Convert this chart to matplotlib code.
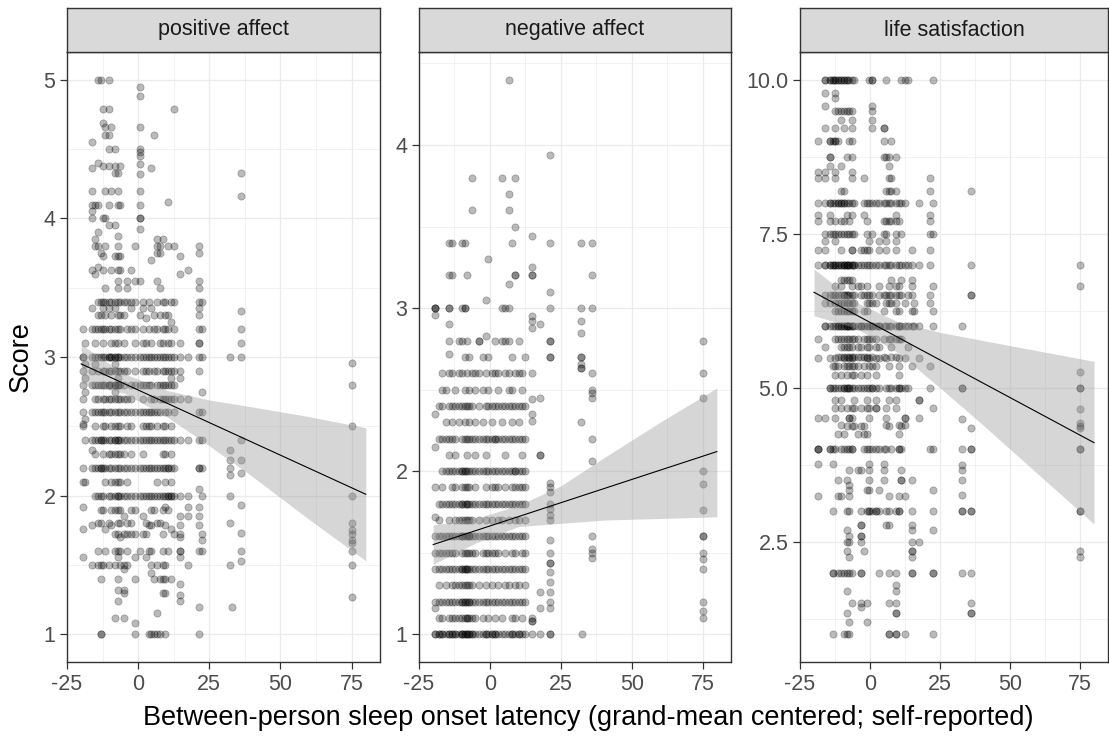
import numpy as np
import matplotlib
matplotlib.use("Agg")
import matplotlib.pyplot as plt

plt.rcParams.update({"font.family": "Liberation Sans", "axes.unicode_minus": False})

# ---- data ----
panel_titles = ["positive affect", "negative affect", "life satisfaction"]
x_ticks = [-25, 0, 25, 50, 75]

# positive affect: person x (centered latency) and that person's daily scores
pa_x = [-19.5, -18.5, -16.2, -15.0, -14.0, -13.2, -12.5, -11.6, -10.4, -9.6, -8.3, -7.2,
        -6.2, -5.0, -3.8, -2.5, -1.0, 0.5, 1.7, 2.8, 3.8, 4.6, 5.6, 6.6, 7.6, 8.8, 9.6,
        10.4, 11.5, 12.6, 14.7, 17.6, 21.3, 22.3, 32.2, 33.0, 36.3, 75.0]
pa_y = [
    [3.2, 3.0, 3.0, 2.9, 2.8, 2.7, 2.6, 2.52, 2.5, 2.2, 2.1, 1.92, 1.76, 1.56],
    [3.1, 2.95, 2.85, 2.75, 2.55, 2.4, 2.1],
    [4.55, 4.36, 4.2, 4.1, 4.05, 4.0, 3.63, 3.35, 3.2, 3.0, 2.9, 2.8, 2.6, 2.4, 2.33, 2.2, 1.79, 1.5],
    [4.1, 3.85, 3.8, 3.6, 3.2, 3.1, 3.0, 2.95, 2.8, 2.7, 2.6, 2.5, 2.4, 2.3, 2.2, 2.0],
    [5.0, 4.4, 4.1, 3.9, 3.8, 3.65, 3.4, 3.3, 3.2, 3.0, 2.9, 2.8, 2.7, 2.6, 2.4, 2.2, 2.0, 1.8, 1.6, 1.5],
    [5.0, 3.75, 3.4, 3.3, 3.2, 3.0, 2.8, 2.6, 2.4, 2.4, 2.2, 2.2, 2.0, 1.9, 1.8, 1.5, 1.4, 1.0, 1.0],
    [4.79, 4.69, 4.38, 4.0, 3.73, 3.63, 3.4, 3.35, 3.2, 3.1, 3.0, 2.9, 2.8, 2.7, 2.6, 2.5, 2.4, 2.3,
     2.2, 2.0, 1.9, 1.5],
    [4.66, 4.6, 4.2, 4.0, 3.8, 3.5, 3.4, 3.3, 3.2, 3.0, 2.9, 2.8, 2.7, 2.6, 2.5, 2.4, 2.2, 2.1, 1.76, 1.6],
    [5.0, 4.79, 4.6, 4.5, 4.38, 4.1, 3.95, 3.4, 3.35, 3.2, 3.0, 3.0, 2.9, 2.8, 2.8, 2.7, 2.6, 2.4,
     2.3, 2.2, 2.0, 1.8, 1.5],
    [4.66, 4.2, 3.63, 3.4, 3.3, 3.2, 3.1, 3.0, 3.0, 2.9, 2.8, 2.7, 2.6, 2.5, 2.4, 2.3, 2.2, 2.1,
     2.0, 1.9, 1.79],
    [4.5, 4.38, 4.33, 3.95, 3.73, 3.4, 3.35, 3.2, 3.1, 3.0, 3.0, 2.95, 2.9, 2.8, 2.8, 2.75, 2.7,
     2.6, 2.5, 2.4, 2.4, 2.3, 2.2, 2.1, 2.0, 1.9, 1.72, 1.6, 1.5, 1.12],
    [4.33, 4.2, 4.1, 3.87, 3.8, 3.73, 3.63, 3.55, 3.5, 3.4, 3.3, 3.2, 3.1, 3.0, 3.0, 2.9, 2.85,
     2.8, 2.8, 2.7, 2.6, 2.5, 2.4, 2.4, 2.3, 2.2, 2.1, 2.0, 2.0, 1.9, 1.8, 1.72, 1.6, 1.56, 1.4,
     1.32, 1.24],
    [4.38, 4.1, 3.73, 3.63, 3.4, 3.3, 3.2, 3.0, 2.9, 2.8, 2.7, 2.6, 2.5, 2.4, 2.3, 2.2, 2.1, 2.0,
     1.9, 1.8, 1.7, 1.6, 1.5],
    [3.4, 3.3, 3.1, 3.0, 2.9, 2.8, 2.7, 2.6, 2.4, 2.3, 2.2, 2.0, 1.85, 1.72, 1.5, 1.47, 1.32, 1.3, 1.12],
    [3.55, 3.5, 3.4, 3.2, 3.0, 2.9, 2.7, 2.6, 2.5, 2.4, 2.2, 2.1, 2.0, 1.8, 1.72, 1.6, 1.5],
    [3.63, 3.4, 3.35, 3.2, 3.0, 2.8, 2.7, 2.6, 2.5, 2.4, 2.3, 2.2, 2.0, 1.9, 1.8, 1.72],
    [3.8, 3.55, 3.4, 3.2, 3.1, 3.0, 2.9, 2.8, 2.6, 2.4, 2.2, 2.0, 1.9, 1.72, 1.56, 1.4, 1.08, 1.0],
    [4.95, 4.88, 4.66, 4.5, 4.48, 4.45, 4.39, 4.32, 4.2, 4.1, 4.0, 4.0, 3.92, 3.55, 3.3, 3.0,
     2.8, 2.6, 2.4, 2.2, 2.0, 1.6],
    [3.4, 3.35, 3.2, 3.1, 3.0, 2.9, 2.8, 2.7, 2.6, 2.5, 2.4, 2.3, 2.2, 2.0, 1.85, 1.72],
    [3.28, 3.1, 3.0, 2.9, 2.8, 2.6, 2.5, 2.4, 2.2, 2.0, 1.8, 1.72, 1.56],
    [3.4, 3.2, 3.0, 2.9, 2.8, 2.6, 2.5, 2.4, 2.2, 2.0, 1.79, 1.6, 1.0],
    [4.36, 3.7, 3.35, 3.1, 3.0, 2.8, 2.7, 2.6, 2.5, 2.4, 2.2, 2.0, 1.9, 1.79, 1.6, 1.5, 1.44, 1.0],
    [4.6, 3.3, 3.2, 3.0, 2.9, 2.7, 2.6, 2.4, 2.2, 2.0, 1.9, 1.4, 1.0],
    [3.85, 3.8, 3.75, 3.55, 3.4, 3.2, 3.0, 2.9, 2.8, 2.6, 2.5, 2.4, 2.2, 2.1, 2.0, 1.8, 1.5, 1.15, 1.0],
    [3.8, 3.75, 3.5, 3.3, 3.1, 3.0, 2.8, 2.7, 2.6, 2.4, 2.2, 2.0, 1.8, 1.4, 1.0],
    [3.85, 3.4, 3.2, 3.1, 3.0, 2.9, 2.8, 2.7, 2.5, 2.4, 2.3, 2.2, 2.0, 1.9, 1.72, 1.6, 1.5, 1.4, 1.3],
    [3.4, 3.3, 3.2, 3.0, 2.9, 2.8, 2.7, 2.6, 2.5, 2.4, 2.3, 2.2, 2.1, 2.0, 1.92, 1.79, 1.5, 1.4,
     1.3, 1.0],
    [4.12, 3.8, 3.3, 3.2, 3.1, 3.0, 2.9, 2.8, 2.7, 2.6, 2.4, 2.2, 2.2, 2.0, 2.0, 1.9, 1.6],
    [3.4, 3.25, 3.1, 3.0, 2.9, 2.85, 2.8, 2.7, 2.5, 2.4, 2.3, 2.2, 2.1, 2.0, 2.0, 1.76, 1.4],
    [4.79, 3.8, 3.4, 3.2, 3.0, 2.9, 2.8, 2.7, 2.6, 2.4, 2.2, 2.0, 1.72],
    [3.73, 3.6, 3.1, 3.0, 2.9, 2.85, 2.7, 2.4, 2.0, 1.85, 1.79, 1.72, 1.7, 1.6, 1.6, 1.56, 1.36,
     1.28, 1.24],
    [3.63, 3.0, 2.7, 2.4, 2.0, 1.92, 1.85, 1.5],
    [3.8, 3.75, 3.55, 3.5, 3.4, 3.35, 3.3, 3.2, 3.1, 3.1, 3.0, 2.9, 2.6, 2.4, 2.2, 2.2, 2.05,
     1.92, 1.85, 1.79, 1.6, 1.2, 1.0],
    [3.4, 3.2, 3.0, 2.75, 2.6, 2.4, 2.2, 2.0, 1.72, 1.68, 1.6],
    [3.0, 2.33, 2.26, 2.2, 2.15, 2.0, 1.8, 1.5],
    [1.2],
    [4.33, 4.16, 3.33, 3.2, 3.1, 3.0, 2.4, 2.26, 2.16, 1.93, 1.73, 1.6, 1.53],
    [2.96, 2.8, 2.5, 2.0, 1.8, 1.75, 1.72, 1.68, 1.66, 1.6, 1.5, 1.27],
]

# negative affect
na_x = [-19.5, -18.0, -16.8, -15.5, -14.5, -13.3, -12.2, -11.0, -9.7, -8.8, -8.0, -7.2,
        -6.2, -5.3, -3.9, -2.6, -1.3, -0.5, 0.6, 1.9, 3.0, 4.1, 5.2, 6.6, 7.8, 9.0, 10.1,
        11.2, 12.3, 14.9, 17.6, 21.3, 32.0, 32.6, 35.9, 75.0]
na_y = [
    [3.0, 3.0, 3.0, 2.96, 2.35, 2.15, 1.9, 1.72, 1.6, 1.5, 1.4, 1.2, 1.16, 1.0, 1.0],
    [2.4, 2.2, 1.8, 1.7, 1.6, 1.5, 1.4, 1.3, 1.2, 1.1, 1.0, 1.0],
    [2.6, 2.5, 2.4, 2.2, 2.0, 1.9, 1.8, 1.6, 1.5, 1.4, 1.2, 1.1, 1.0, 1.0],
    [2.5, 2.3, 2.2, 2.0, 1.8, 1.6, 1.5, 1.4, 1.3, 1.2, 1.0],
    [3.4, 3.2, 3.0, 3.0, 2.9, 2.8, 2.72, 2.6, 2.4, 2.2, 2.1, 2.0, 1.8, 1.7, 1.6, 1.5, 1.4, 1.2,
     1.1, 1.0, 1.0],
    [3.4, 3.2, 2.6, 2.4, 2.3, 2.2, 2.0, 1.9, 1.8, 1.6, 1.5, 1.4, 1.3, 1.2, 1.1, 1.0, 1.0],
    [2.5, 2.4, 2.2, 2.1, 2.0, 1.9, 1.8, 1.7, 1.6, 1.5, 1.4, 1.3, 1.2, 1.1, 1.0, 1.0],
    [2.8, 2.6, 2.4, 2.3, 2.0, 1.8, 1.7, 1.6, 1.4, 1.3, 1.2, 1.1, 1.0],
    [3.4, 3.0, 2.8, 2.6, 2.4, 2.2, 2.0, 2.0, 1.9, 1.8, 1.8, 1.7, 1.6, 1.6, 1.5, 1.4, 1.4, 1.3,
     1.2, 1.2, 1.1, 1.0, 1.0, 1.0],
    [3.4, 3.0, 3.0, 2.7, 2.5, 2.4, 2.3, 2.2, 2.0, 2.0, 1.9, 1.8, 1.7, 1.6, 1.5, 1.4, 1.4, 1.3,
     1.2, 1.2, 1.1, 1.0, 1.0],
    [3.2, 2.8, 2.6, 2.4, 2.2, 2.1, 2.0, 1.9, 1.8, 1.8, 1.7, 1.6, 1.5, 1.4, 1.4, 1.3, 1.2, 1.1,
     1.1, 1.0, 1.0],
    [2.7, 2.5, 2.4, 2.3, 2.2, 2.0, 1.9, 1.8, 1.7, 1.6, 1.6, 1.5, 1.4, 1.3, 1.2, 1.2, 1.1, 1.0, 1.0],
    [3.8, 3.6, 2.6, 2.4, 2.2, 2.0, 1.8, 1.7, 1.6, 1.5, 1.4, 1.3, 1.2, 1.1, 1.0, 1.0],
    [2.6, 2.5, 2.3, 2.2, 2.1, 2.0, 1.9, 1.8, 1.6, 1.5, 1.4, 1.2, 1.1, 1.0],
    [2.8, 2.8, 2.6, 2.4, 2.2, 2.0, 1.8, 1.7, 1.6, 1.4, 1.3, 1.2, 1.0],
    [2.7, 2.5, 2.3, 2.2, 2.0, 1.8, 1.6, 1.5, 1.4, 1.2, 1.1, 1.0],
    [3.05, 2.83, 2.6, 2.4, 2.2, 2.1, 2.0, 1.9, 1.8, 1.7, 1.6, 1.5, 1.4, 1.3, 1.2, 1.0, 1.0],
    [3.3, 2.7, 2.5, 2.4, 2.2, 2.0, 1.8, 1.6, 1.5, 1.4, 1.2, 1.1, 1.0],
    [2.6, 2.4, 2.3, 2.2, 2.0, 1.9, 1.8, 1.7, 1.6, 1.5, 1.4, 1.3, 1.2, 1.0, 1.0],
    [2.8, 2.6, 2.4, 2.2, 2.2, 2.0, 1.9, 1.8, 1.6, 1.5, 1.4, 1.2, 1.1, 1.0, 1.0],
    [2.6, 2.5, 2.4, 2.2, 2.0, 1.9, 1.8, 1.7, 1.6, 1.5, 1.4, 1.3, 1.2, 1.0],
    [3.8, 3.0, 2.8, 2.4, 2.3, 2.2, 2.0, 1.8, 1.7, 1.6, 1.4, 1.2, 1.1, 1.0],
    [3.0, 2.8, 2.6, 2.4, 2.2, 2.1, 2.0, 1.9, 1.8, 1.6, 1.5, 1.4, 1.3, 1.2, 1.0],
    [4.4, 3.7, 3.6, 3.15, 3.0, 2.8, 2.6, 2.5, 2.4, 2.2, 2.0, 1.8, 1.7, 1.6, 1.4, 1.3, 1.2, 1.0],
    [3.4, 2.7, 2.5, 2.4, 2.3, 2.2, 2.0, 1.9, 1.8, 1.6, 1.5, 1.4, 1.2, 1.1, 1.0, 1.0],
    [3.8, 3.5, 3.2, 3.2, 2.6, 2.4, 2.2, 2.0, 2.0, 1.9, 1.8, 1.7, 1.6, 1.5, 1.4, 1.3, 1.2, 1.1, 1.0],
    [2.8, 2.6, 2.4, 2.3, 2.2, 2.0, 1.9, 1.8, 1.7, 1.6, 1.4, 1.3, 1.2, 1.0, 1.0],
    [2.6, 2.5, 2.4, 2.2, 2.1, 2.0, 1.9, 1.8, 1.6, 1.5, 1.4, 1.2, 1.1, 1.0],
    [2.7, 2.4, 2.2, 2.0, 1.9, 1.8, 1.7, 1.6, 1.5, 1.4, 1.3, 1.2, 1.0],
    [3.44, 3.25, 3.2, 3.2, 2.95, 2.92, 2.88, 2.6, 2.44, 2.35, 2.31, 1.1, 1.08, 1.08, 1.0],
    [2.9, 2.45, 2.1, 2.1, 1.26, 1.16, 1.0],
    [3.94, 3.4, 3.1, 3.0, 2.8, 2.8, 2.7, 2.7, 1.93, 1.9, 1.87, 1.8, 1.77, 1.73, 1.7, 1.58, 1.5,
     1.44, 1.44, 1.38, 1.32, 1.26, 1.2, 1.16, 1.0, 1.0],
    [3.4, 3.0, 2.92, 2.85, 2.7, 2.7, 2.66, 2.63, 2.63, 2.3],
    [1.0],
    [3.4, 3.2, 3.0, 2.6, 2.5, 2.48, 2.45, 2.2, 2.06, 1.6, 1.52, 1.5, 1.47],
    [2.8, 2.6, 2.45, 2.0, 1.92, 1.76, 1.6, 1.6, 1.5, 1.46, 1.4, 1.2, 1.14, 1.1],
]

# life satisfaction
ls_x = [-18.7, -16.0, -14.4, -13.3, -12.4, -11.5, -10.3, -9.2, -8.3, -7.4, -6.5, -5.6, -4.4,
        -3.3, -2.3, -1.2, -0.2, 0.8, 2.0, 3.2, 4.9, 5.8, 6.7, 7.6, 9.2, 10.2, 11.2, 12.6,
        13.6, 14.9, 15.8, 17.6, 21.4, 22.4, 32.7, 36.2, 75.0]
ls_y = [
    [9.0, 8.5, 8.4, 8.0, 7.8, 7.7, 7.24, 7.0, 5.8, 5.49, 4.51, 4.0, 4.0, 4.0, 3.76, 3.25],
    [10.0, 10.0, 9.78, 9.58, 9.22, 8.5, 8.4, 8.0, 7.5, 7.38, 7.24, 7.0, 7.0, 6.5, 6.37, 6.0, 6.0,
     5.67, 4.51],
    [10.0, 10.0, 9.0, 9.0, 8.75, 8.75, 8.6, 8.0, 8.0, 7.8, 7.7, 7.5, 7.0, 7.0, 6.5, 6.37, 6.0,
     5.49, 5.0, 5.0, 4.0, 4.0],
    [10.0, 10.0, 9.0, 8.0, 7.5, 7.0, 7.0, 6.5, 6.0, 5.35, 5.0, 4.0, 3.76, 3.0, 2.0, 2.0, 1.0],
    [10.0, 10.0, 9.78, 9.7, 9.5, 9.22, 9.0, 9.0, 8.5, 8.4, 8.0, 7.7, 7.5, 7.38, 7.0, 7.0, 6.65,
     6.5, 6.37, 6.24, 6.0, 5.8, 5.49, 5.35, 5.2, 5.0, 4.8, 4.67, 4.51, 4.0],
    [10.0, 10.0, 9.5, 9.0, 8.0, 8.0, 7.5, 7.0, 7.0, 6.5, 6.37, 6.24, 6.0, 6.0, 5.8, 5.5, 5.35,
     5.0, 4.25, 3.51, 3.25, 2.0],
    [10.0, 10.0, 9.5, 9.35, 8.6, 8.2, 8.0, 8.0, 7.7, 7.5, 7.24, 7.0, 7.0, 6.75, 6.65, 6.5, 6.37,
     6.24, 6.0, 6.0, 5.8, 5.67, 5.5, 5.2, 5.0, 4.8, 4.67, 4.4, 4.0, 3.25, 2.0],
    [10.0, 10.0, 9.5, 9.22, 8.2, 8.0, 8.0, 7.7, 7.5, 7.0, 7.0, 7.0, 6.75, 6.5, 6.5, 6.37, 6.24,
     6.0, 6.0, 5.8, 5.67, 5.5, 5.49, 5.35, 5.0, 5.0, 4.25, 4.0, 2.0, 1.0],
    [10.0, 10.0, 9.5, 8.75, 8.0, 7.8, 7.5, 7.0, 7.0, 7.0, 6.75, 6.5, 6.5, 6.37, 6.24, 6.0, 6.0,
     6.0, 5.8, 5.67, 5.5, 5.35, 5.2, 5.0, 5.0, 4.67, 4.38, 4.0, 3.51, 3.0, 2.7, 2.5, 2.35, 2.0,
     1.7, 1.35, 1.0],
    [10.0, 9.5, 9.0, 8.0, 7.7, 7.5, 7.0, 7.0, 6.75, 6.5, 6.37, 6.24, 6.0, 6.0, 5.8, 5.67, 5.5,
     5.49, 5.35, 5.0, 5.0, 4.51, 4.51, 4.0, 3.66, 3.42, 3.34, 3.25, 3.0, 2.6, 2.5, 2.25, 2.0,
     1.2, 1.0],
    [10.0, 9.5, 9.35, 9.22, 9.0, 8.75, 8.5, 8.4, 8.0, 7.8, 7.5, 7.24, 7.24, 7.0, 7.0, 6.75,
     6.65, 6.5, 6.37, 6.24, 6.0, 6.0, 5.8, 5.67, 5.5, 5.49, 5.35, 5.2, 5.0, 4.67, 4.51, 4.38,
     4.0, 4.0, 2.0, 1.5],
    [10.0, 8.0, 7.5, 7.0, 7.0, 6.5, 6.37, 6.24, 6.0, 5.8, 5.5, 5.35, 5.2, 5.0, 4.8, 4.67, 4.38],
    [7.0, 6.65, 6.0, 5.8, 5.67, 5.5, 5.35, 5.0, 4.25, 3.66],
    [7.24, 7.0, 6.65, 6.5, 6.0, 6.0, 5.67, 5.5, 5.2, 5.0, 4.67, 4.38, 3.66, 3.0, 2.78, 2.78, 2.6,
     2.6, 2.5, 2.0, 2.0, 1.5, 1.45],
    [8.4, 8.0, 7.8, 7.24, 7.0, 6.5, 6.24, 6.0, 5.8, 5.5, 5.35, 5.0, 4.38, 4.25, 4.0, 2.35],
    [8.0, 7.7, 7.5, 7.24, 7.0, 6.65, 6.5, 6.37, 6.24, 6.0, 5.8, 5.67, 5.5, 5.49, 5.2, 5.0, 4.8,
     4.67, 4.25, 4.0, 3.34, 3.0, 1.5, 1.2],
    [10.0, 8.0, 7.38, 7.24, 7.0, 6.5, 6.37, 6.0, 5.8, 5.67, 5.49, 5.35, 5.0, 4.67, 4.51, 4.0,
     3.76, 3.66, 3.51, 3.34, 3.0, 3.0],
    [10.0, 10.0, 9.58, 9.5, 9.35, 9.22, 8.0, 7.5, 7.0, 6.5, 6.37, 6.0, 6.0, 5.8, 5.5, 5.35, 5.0,
     5.0, 4.0, 3.0],
    [8.0, 7.0, 6.37, 6.0, 5.8, 5.67, 5.49, 5.35, 5.2, 5.0, 4.8, 4.67, 4.67, 4.0, 3.0, 3.0],
    [8.0, 7.38, 7.24, 7.0, 6.65, 6.5, 6.0, 6.0, 5.67, 5.49, 5.0, 4.0, 3.34, 3.0, 2.0],
    [9.22, 9.22, 9.0, 8.75, 8.0, 7.7, 7.5, 7.0, 6.5, 6.24, 6.0, 5.8, 5.5, 4.0, 3.76, 3.66, 3.51],
    [10.0, 8.75, 8.2, 8.0, 7.7, 7.5, 7.38, 7.24, 7.0, 6.5, 6.37, 6.0, 5.49, 5.0, 4.67, 4.51, 4.4,
     4.0, 3.0, 2.78],
    [8.75, 8.6, 8.4, 8.2, 8.0, 7.7, 7.0, 6.65, 6.5, 6.37, 6.0, 5.8, 5.35, 5.0, 4.8, 4.38, 3.25,
     3.0, 2.78, 2.0, 1.5, 1.0, 1.0],
    [9.0, 8.4, 8.2, 8.0, 7.7, 7.0, 6.75, 6.5, 6.37, 6.0, 5.8, 5.67, 5.5, 5.0, 4.0],
    [8.75, 8.2, 8.0, 7.8, 7.7, 7.5, 7.38, 7.24, 7.0, 6.65, 6.5, 6.37, 6.24, 6.0, 5.8, 5.5, 5.0,
     4.8, 4.67, 3.0, 2.0, 1.8, 1.7, 1.5, 1.35, 1.35, 1.0, 1.0],
    [8.0, 7.7, 7.0, 6.65, 6.5, 6.24, 6.0, 6.0, 5.8, 5.49, 5.35, 5.2, 5.0, 5.0, 4.4, 4.25, 4.0,
     4.0, 3.25, 3.0, 3.0],
    [10.0, 8.0, 7.5, 7.0, 6.75, 6.5, 6.0, 5.8, 5.0, 4.38, 4.0, 3.66, 3.51, 3.51],
    [10.0, 8.0, 7.0, 6.37, 6.0, 5.49, 5.0, 4.51, 4.51, 4.4, 3.25, 1.0],
    [10.0, 7.0, 6.5, 6.0, 5.67, 5.0],
    [7.24, 7.0, 6.75, 6.65, 6.5, 6.24, 6.0, 5.35, 3.51, 3.0, 2.78, 2.7, 2.5, 2.35, 2.35, 2.25,
     2.0, 2.0],
    [6.37, 6.24, 6.0],
    [8.0, 7.0, 6.0, 5.49, 4.8, 4.8, 4.51, 2.5],
    [8.4, 8.2, 7.8, 7.7, 7.5, 7.24, 7.0, 6.5, 6.37, 5.35, 5.0, 4.0],
    [10.0, 8.0, 7.5, 6.65, 6.24, 6.0, 4.67, 4.0, 3.34, 3.0, 2.7, 2.0, 2.0, 1.0],
    [6.0, 5.0, 5.0, 4.5, 4.0, 3.75, 3.67, 3.5, 3.26, 3.0, 3.0, 2.0],
    [8.2, 7.0, 6.5, 6.5, 4.35, 4.0, 4.0, 3.0, 3.0, 2.0, 1.5, 1.35, 1.35],
    [7.0, 6.66, 5.25, 5.0, 5.0, 4.66, 4.43, 4.38, 4.34, 4.0, 4.0, 3.0, 3.0, 2.35, 2.26],
]

# fitted lines and 95% bands (read at a few x positions)
fit_x = [-20, 80]
pa_fit = [2.95, 2.01]
na_fit = [1.55, 2.12]
ls_fit = [6.55, 4.11]
band_x = [-20, -5, 10, 25, 40, 60, 80]
pa_lo = [2.81, 2.74, 2.57, 2.36, 2.14, 1.83, 1.53]
pa_hi = [3.09, 2.88, 2.76, 2.69, 2.64, 2.57, 2.49]
na_lo = [1.43, 1.56, 1.66, 1.68, 1.70, 1.71, 1.72]
na_hi = [1.67, 1.71, 1.79, 1.91, 2.08, 2.30, 2.51]
ls_lo = [6.17, 5.97, 5.57, 5.00, 4.41, 3.60, 2.79]
ls_hi = [6.93, 6.39, 6.07, 5.90, 5.77, 5.60, 5.43]

# ---- layout ----
W, H = 1109, 737
fig = plt.figure(figsize=(W / 100, H / 100), dpi=100)

panels = [
    (67, 380, pa_x, pa_y, pa_fit, pa_lo, pa_hi, (0.8, 5.2), [1, 2, 3, 4, 5], ["1", "2", "3", "4", "5"],
     [1.5, 2.5, 3.5, 4.5]),
    (419, 731, na_x, na_y, na_fit, na_lo, na_hi, (0.83, 4.57), [1, 2, 3, 4], ["1", "2", "3", "4"],
     [1.5, 2.5, 3.5, 4.5]),
    (800, 1108, ls_x, ls_y, ls_fit, ls_lo, ls_hi, (0.55, 10.45), [2.5, 5.0, 7.5, 10.0],
     ["2.5", "5.0", "7.5", "10.0"], [1.25, 3.75, 6.25, 8.75]),
]
top, bot, strip_top = 52, 662, 8
dark = "#333333"

for title, (l, r, px, py, fy, lo, hi, ylim, yt, ytl, ymin) in zip(panel_titles, panels):
    ax = fig.add_axes([l / W, (H - bot) / H, (r - l) / W, (bot - top) / H])
    xs = np.repeat(px, [len(v) for v in py])
    ys = np.concatenate(py)
    ax.scatter(xs, ys, s=27, color="black", alpha=0.27, linewidths=0.6, zorder=2)
    ax.fill_between(band_x, lo, hi, color="#999999", alpha=0.4, lw=0, zorder=3)
    ax.plot(fit_x, fy, color="black", lw=0.8, zorder=4)

    ax.set_xlim(-25, 85)
    ax.set_ylim(*ylim)
    ax.set_xticks(x_ticks)
    ax.set_xticklabels([str(t) for t in x_ticks])
    ax.set_xticks([-12.5, 12.5, 37.5, 62.5], minor=True)
    ax.set_yticks(yt)
    ax.set_yticklabels(ytl)
    ax.set_yticks(ymin, minor=True)
    ax.grid(which="major", color="#EBEBEB", lw=0.9, zorder=0)
    ax.grid(which="minor", color="#EBEBEB", lw=0.45, zorder=0)
    ax.set_axisbelow(True)
    ax.tick_params(which="major", length=4.8, width=0.9, color=dark, labelcolor="#4D4D4D",
                   labelsize=15.5, pad=3.5)
    ax.tick_params(which="minor", length=0)
    for sp in ax.spines.values():
        sp.set_color(dark)
        sp.set_linewidth(1.0)

    # facet strip
    sx = fig.add_axes([l / W, (H - top) / H, (r - l) / W, (top - strip_top) / H])
    sx.set_facecolor("#D9D9D9")
    sx.set_xticks([])
    sx.set_yticks([])
    for sp in sx.spines.values():
        sp.set_color(dark)
        sp.set_linewidth(1.0)
    sx.text(0.5, 0.5, title, ha="center", va="center", fontsize=15.5, color="#1A1A1A",
            transform=sx.transAxes)

fig.text(588 / W, (H - 725) / H, "Between-person sleep onset latency (grand-mean centered; self-reported)",
         ha="center", va="baseline", fontsize=19.5, color="black")
fig.text(21 / W, (H - 357) / H, "Score", rotation=90, ha="center", va="center",
         fontsize=19.5, color="black")

fig.savefig("out.png", dpi=100)
